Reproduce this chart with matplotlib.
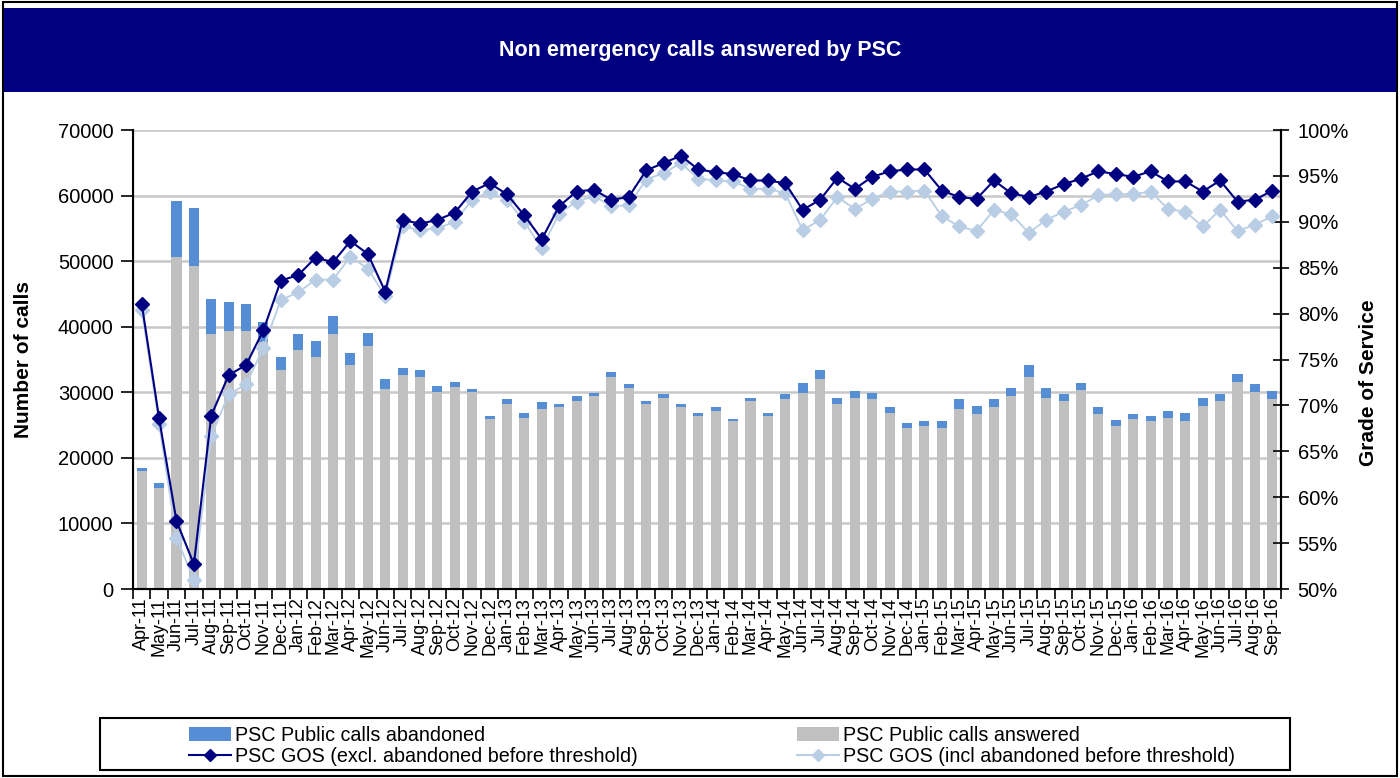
import matplotlib
matplotlib.use('Agg')
import matplotlib.pyplot as plt
from matplotlib.patches import Rectangle
from matplotlib.lines import Line2D
from matplotlib.patches import Patch
import numpy as np

plt.rcParams['font.family'] = ['Liberation Sans', 'DejaVu Sans']

# month labels Apr-11 .. Sep-16
mon = ['Jan','Feb','Mar','Apr','May','Jun','Jul','Aug','Sep','Oct','Nov','Dec']
months = []
for k in range(66):
    m = (3 + k) % 12
    y = 11 + (3 + k) // 12
    months.append(f"{mon[m]}-{y}")

# calls answered (grey) and total incl. abandoned (top of blue)
answered = [18000, 15450, 50600, 49250, 38900, 39400, 39400, 37600, 33400, 36450,
            35450, 38900, 34150, 37000, 30500, 32600, 32400, 30100, 30750, 30100,
            25900, 28200, 26150, 27450, 27700, 28700, 29450, 32350, 30600, 28200,
            29200, 27700, 26400, 27150, 25550, 28700, 26400, 28950, 29950, 32100,
            28200, 29200, 28950, 26900, 24500, 24850, 24600, 27450, 26650, 27700,
            29450, 32350, 29200, 28700, 30350, 26650, 24900, 25900, 25650, 26150,
            25650, 27950, 28700, 31600, 30100, 29050]
total = [18500, 16200, 59100, 58100, 44250, 43750, 43500, 40700, 35450, 38900,
         37800, 41700, 36000, 39100, 32100, 33650, 33400, 31000, 31500, 30500,
         26350, 28950, 26850, 28450, 28200, 29400, 29950, 33150, 31300, 28700,
         29800, 28200, 26900, 27700, 25900, 29200, 26900, 29800, 31350, 33400,
         29200, 30250, 29950, 27700, 25300, 25600, 25600, 28950, 27950, 28950,
         30600, 34150, 30600, 29800, 31350, 27700, 25850, 26650, 26400, 27150,
         26850, 29200, 29800, 32800, 31250, 30250]
abandoned = [t - a for t, a in zip(total, answered)]

# grade of service, %
gos_excl = [81.1, 68.6, 57.4, 52.7, 68.9, 73.3, 74.4, 78.2, 83.6, 84.2,
            86.1, 85.6, 87.9, 86.5, 82.4, 90.2, 89.8, 90.2, 91.0, 93.3,
            94.2, 93.0, 90.7, 88.1, 91.7, 93.3, 93.5, 92.4, 92.7, 95.6,
            96.4, 97.2, 95.7, 95.4, 95.2, 94.5, 94.5, 94.2, 91.3, 92.4,
            94.8, 93.6, 94.9, 95.5, 95.7, 95.7, 93.4, 92.7, 92.5, 94.5,
            93.1, 92.7, 93.3, 94.1, 94.7, 95.5, 95.2, 94.9, 95.5, 94.4,
            94.4, 93.3, 94.5, 92.2, 92.4, 93.4]
gos_incl = [80.4, 68.0, 55.6, 51.0, 66.7, 71.2, 72.3, 76.3, 81.5, 82.3,
            83.7, 83.7, 86.2, 84.9, 81.9, 89.5, 89.1, 89.3, 90.0, 92.4,
            93.3, 92.4, 90.0, 87.1, 90.9, 92.2, 92.8, 91.7, 91.8, 94.6,
            95.3, 96.4, 94.7, 94.5, 94.4, 93.6, 93.6, 93.1, 89.1, 90.2,
            92.7, 91.4, 92.5, 93.3, 93.3, 93.4, 90.6, 89.5, 89.0, 91.3,
            90.8, 88.8, 90.2, 91.1, 91.8, 92.9, 93.0, 93.0, 93.3, 91.4,
            91.1, 89.5, 91.3, 89.0, 89.7, 90.6]

C_ANS = '#c0c0c0'
C_ABN = '#558ed5'
C_DARK = '#000080'
C_LIGHT = '#b9cde5'

fig = plt.figure(figsize=(14, 7.78), dpi=100)

# outer frame and title banner
fig.patches.append(Rectangle((0.002, 0.002), 0.996, 0.996, transform=fig.transFigure,
                             fill=False, edgecolor='black', linewidth=1.5))
fig.patches.append(Rectangle((0.003, 0.882), 0.994, 0.108, transform=fig.transFigure,
                             facecolor=C_DARK, edgecolor='none'))
fig.text(0.5, 0.935, 'Non emergency calls answered by PSC', color='white',
         fontsize=15.5, fontweight='bold', ha='center', va='center')

ax = fig.add_axes([0.095, 0.2429, 0.82, 0.59])
x = np.arange(len(months))
ax.bar(x, answered, width=0.58, color=C_ANS, zorder=2)
ax.bar(x, abandoned, width=0.58, bottom=answered, color=C_ABN, zorder=2)
ax.set_xlim(-0.5, len(months) - 0.5)
ax.set_ylim(0, 70000)
ax.set_yticks(np.arange(0, 70001, 10000))
ax.yaxis.grid(True, color='#c8c8c8', linewidth=1.8, zorder=0)
ax.set_axisbelow(True)
ax.set_xticks(x)
ax.set_xticklabels(months, rotation=90, fontsize=13)
ax.set_xticks(np.arange(-0.5, len(months), 1), minor=True)
ax.tick_params(axis='x', which='major', length=0, pad=6)
ax.tick_params(axis='x', which='minor', length=7, width=1.2)
ax.tick_params(axis='y', labelsize=14.5, length=9, width=1.2, pad=5)
ax.set_ylabel('Number of calls', fontsize=15, fontweight='bold')
ax.yaxis.set_label_coords(-0.087, 0.5)
ax.spines['top'].set_visible(False)
for s in ('left', 'bottom', 'right'):
    ax.spines[s].set_linewidth(1.5)

ax2 = ax.twinx()
ax2.plot(x, gos_incl, color=C_LIGHT, marker='D', markersize=7.5, linewidth=1.3, zorder=3)
ax2.plot(x, gos_excl, color=C_DARK, marker='D', markersize=7, linewidth=1.5, zorder=4)
ax2.set_ylim(50, 100)
ax2.set_yticks(np.arange(50, 101, 5))
ax2.set_yticklabels([f'{v}%' for v in range(50, 101, 5)])
ax2.tick_params(axis='y', labelsize=14.5, length=12, width=1.2, direction='inout', pad=6)
ax2.set_ylabel('Grade of Service', fontsize=15, fontweight='bold')
ax2.yaxis.set_label_coords(1.068, 0.45)
ax2.spines['top'].set_visible(False)
ax2.spines['right'].set_linewidth(1.5)

# legend box drawn separately so the columns can sit where they do in the original
fig.patches.append(Rectangle((100 / 1400, 1 - 770 / 778), 1190 / 1400, 52 / 778,
                             transform=fig.transFigure, fill=False,
                             edgecolor='black', linewidth=1.5))
handles = [Patch(facecolor=C_ABN),
           Line2D([], [], color=C_DARK, marker='D', markersize=6, linewidth=1.5),
           Patch(facecolor=C_ANS),
           Line2D([], [], color=C_LIGHT, marker='D', markersize=6, linewidth=1.5)]
labels = ['PSC Public calls abandoned', 'PSC GOS (excl. abandoned before threshold)',
          'PSC Public calls answered', 'PSC GOS (incl abandoned before threshold)']
fig.legend(handles, labels, ncol=2, loc='upper left', bbox_to_anchor=(172 / 1400, 1 - 709 / 778),
           frameon=False, fontsize=14.2, handlelength=2.13, handletextpad=0.2,
           columnspacing=8.1, borderpad=0.35, labelspacing=0.12)

fig.savefig('out.png', dpi=100)
